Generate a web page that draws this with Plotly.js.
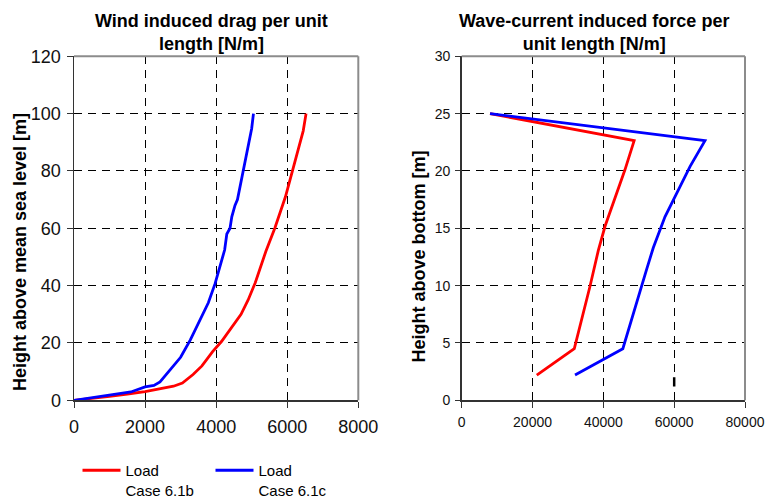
<!DOCTYPE html>
<html>
<head>
<meta charset="utf-8">
<script src="https://cdn.plot.ly/plotly-3.0.1.min.js"></script>
<style>html,body{margin:0;padding:0;background:#fff;}#chart{width:766px;height:501px;}</style>
</head>
<body>
<div id="chart"></div>
<script>
// Wind induced drag per unit length [N/m] vs height above mean sea level [m]
const windDragB = [0, 500, 1000, 1500, 2000, 2400, 2800, 3050, 3350, 3600, 3900, 4150, 4400, 4700, 4900, 5100, 5400, 5650, 5950, 6150, 6270, 6370, 6450, 6530];
const windHeightB = [0, 0.6, 1.4, 2.2, 3, 4, 4.9, 6, 9, 12, 17, 20.5, 25, 30, 35, 41, 52, 60, 71, 80, 85, 90, 94, 100];
const windDragC = [0, 700, 1300, 1600, 2000, 2250, 2420, 2700, 3000, 3270, 3550, 3780, 3970, 4110, 4240, 4300, 4390, 4440, 4530, 4600, 4690, 4770, 4910, 5000, 5050];
const windHeightC = [0, 1.2, 2.3, 2.9, 4.7, 5.2, 6.4, 10.5, 15, 21, 28, 34, 40.7, 46.5, 52.5, 58, 60, 64, 68, 70, 75.6, 80, 88.4, 94.8, 100];

// Wave-current induced force per unit length [N/m] vs height above bottom [m]
const waveForceB = [21200, 31800, 36200, 38600, 40500, 46100, 48700, 8000];
const waveHeightB = [2.2, 4.5, 9.9, 13.1, 15.2, 20.1, 22.65, 25];
const waveForceC = [32000, 45500, 52200, 54100, 57400, 64500, 68700, 8000];
const waveHeightC = [2.2, 4.5, 11.4, 13.3, 16, 20.4, 22.65, 25];
const markForce = [60000, 60000];
const markHeight = [1.2, 2.0];

const seriesNames = ['Load<br>Case 6.1b', 'Load<br>Case 6.1c'];
const colors = ['#ff0000', '#0000ff'];

const FONT = 'Liberation Sans, Arial, sans-serif';

const traces = [
  {x: windDragB, y: windHeightB, type: 'scatter', mode: 'lines', name: seriesNames[0],
   line: {color: colors[0], width: 2.8}, xaxis: 'x', yaxis: 'y', legendgroup: 'b'},
  {x: windDragC, y: windHeightC, type: 'scatter', mode: 'lines', name: seriesNames[1],
   line: {color: colors[1], width: 2.8}, xaxis: 'x', yaxis: 'y', legendgroup: 'c'},
  {x: waveForceB, y: waveHeightB, type: 'scatter', mode: 'lines', name: seriesNames[0],
   line: {color: colors[0], width: 2.8}, xaxis: 'x2', yaxis: 'y2', legendgroup: 'b', showlegend: false},
  {x: waveForceC, y: waveHeightC, type: 'scatter', mode: 'lines', name: seriesNames[1],
   line: {color: colors[1], width: 2.8}, xaxis: 'x2', yaxis: 'y2', legendgroup: 'c', showlegend: false},
  {x: markForce, y: markHeight, type: 'scatter', mode: 'lines', name: 'mark',
   line: {color: '#000000', width: 2.5}, xaxis: 'x2', yaxis: 'y2', showlegend: false, hoverinfo: 'skip'}
];

const gridCommon = {
  showgrid: true, gridcolor: '#000000', gridwidth: 1, griddash: '8px,6px',
  zeroline: false, showline: true, linecolor: '#333333', linewidth: 1.5,
  ticks: 'outside', ticklen: 6, tickwidth: 1, tickcolor: '#333333',
  automargin: false, tickformat: 'd'
};

const yDom = [(501 - 400.3) / 501, (501 - 56.3) / 501];

const layout = {
  width: 766, height: 501,
  margin: {l: 0, r: 0, t: 0, b: 0, autoexpand: false},
  paper_bgcolor: '#ffffff', plot_bgcolor: '#ffffff',
  font: {family: FONT, color: '#000000'},
  showlegend: true,
  xaxis: Object.assign({}, gridCommon, {
    domain: [74 / 766, 358.3 / 766], range: [0, 8000], dtick: 2000, tick0: 0,
    tickfont: {size: 18, family: FONT, color: '#111'}, anchor: 'y', ticklabelstandoff: 4
  }),
  yaxis: Object.assign({}, gridCommon, {
    domain: yDom, range: [0, 120], dtick: 20, tick0: 0,
    tickfont: {size: 18, family: FONT, color: '#111'}, anchor: 'x', ticklabelstandoff: 2
  }),
  xaxis2: Object.assign({}, gridCommon, {
    domain: [461.7 / 766, 745 / 766], range: [0, 80000], dtick: 20000, tick0: 0,
    tickfont: {size: 14, family: FONT, color: '#111'}, anchor: 'y2', ticklabelstandoff: 2
  }),
  yaxis2: Object.assign({}, gridCommon, {
    domain: yDom, range: [0, 30], dtick: 5, tick0: 0,
    tickfont: {size: 14, family: FONT, color: '#111'}, anchor: 'x2', ticklen: 5, ticklabelstandoff: 2
  }),
  shapes: [
    {type: 'line', xref: 'x domain', yref: 'y domain', x0: 0, x1: 1, y0: 1, y1: 1, line: {color: '#8c8c8c', width: 2}},
    {type: 'line', xref: 'x domain', yref: 'y domain', x0: 1, x1: 1, y0: 0, y1: 1, line: {color: '#8c8c8c', width: 2}},
    {type: 'line', xref: 'x2 domain', yref: 'y2 domain', x0: 0, x1: 1, y0: 1, y1: 1, line: {color: '#8c8c8c', width: 2}},
    {type: 'line', xref: 'x2 domain', yref: 'y2 domain', x0: 1, x1: 1, y0: 0, y1: 1, line: {color: '#8c8c8c', width: 2}}
  ],
  annotations: [
    {text: '<b>Wind induced drag per unit<br>length [N/m]</b>', xref: 'paper', yref: 'paper',
     x: 211.5 / 766, y: (501 - 32.5) / 501, xanchor: 'center', yanchor: 'middle', showarrow: false,
     font: {size: 18, family: FONT, color: '#000'}},
    {text: '<b>Wave-current induced force per<br>unit length [N/m]</b>', xref: 'paper', yref: 'paper',
     x: 594 / 766, y: (501 - 32.5) / 501, xanchor: 'center', yanchor: 'middle', showarrow: false,
     font: {size: 18, family: FONT, color: '#000'}},
    {text: '<b>Height above mean sea level [m]</b>', xref: 'paper', yref: 'paper',
     x: 20 / 766, y: (501 - 252) / 501, xanchor: 'center', yanchor: 'middle', textangle: -90, showarrow: false,
     font: {size: 18, family: FONT, color: '#000'}},
    {text: '<b>Height above bottom [m]</b>', xref: 'paper', yref: 'paper',
     x: 418.5 / 766, y: (501 - 257) / 501, xanchor: 'center', yanchor: 'middle', textangle: -90, showarrow: false,
     font: {size: 18, family: FONT, color: '#000'}}
  ],
  legend: {
    orientation: 'h', x: 77.5 / 766, xanchor: 'left', y: (501 - 454) / 501, yanchor: 'top',
    font: {size: 15, family: FONT, color: '#000'}, valign: 'top',
    entrywidth: 80, entrywidthmode: 'pixels', itemwidth: 38,
    bgcolor: 'rgba(0,0,0,0)', borderwidth: 0, tracegroupgap: 0
  }
};

Plotly.newPlot('chart', traces, layout, {staticPlot: true, displayModeBar: false});
</script>
</body>
</html>
